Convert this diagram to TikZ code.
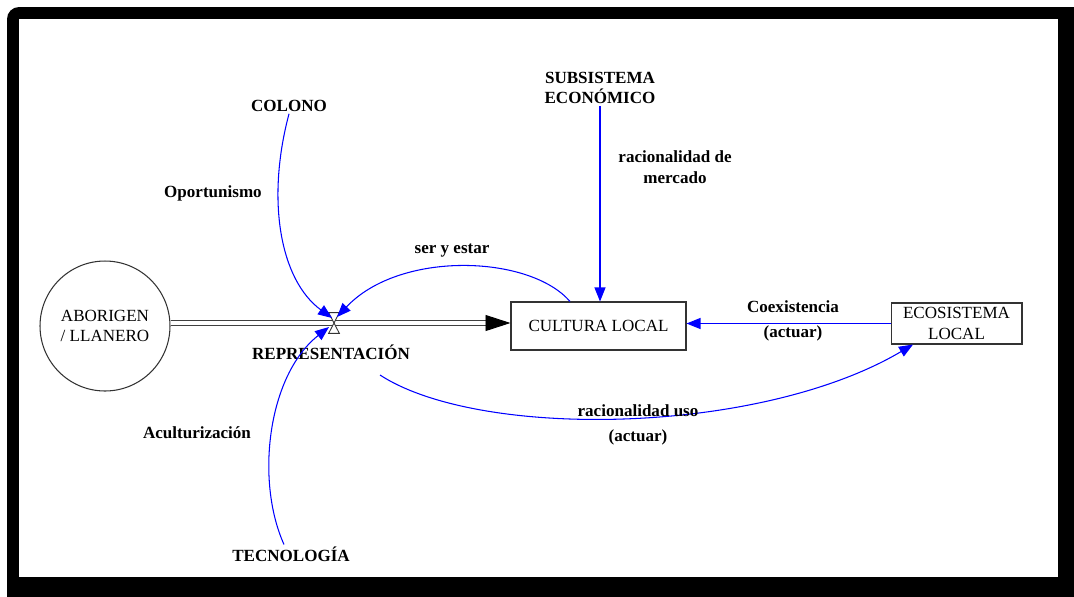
\documentclass[tikz,border=0pt]{standalone}
\usepackage{fontspec}
\setmainfont{Liberation Serif}
\usetikzlibrary{arrows.meta,calc,positioning}
\tikzset{
  var/.style={font=\fontsize{9.7}{11.8}\selectfont\bfseries, align=center, inner sep=1pt},
  stockbox/.style={draw=black!80, line width=0.6pt, align=center, inner sep=0pt},
  link/.style={blue, line width=0.6pt, -{Triangle[length=0.28cm,width=0.22cm]}},
  pipe/.style={draw=black!75, line width=0.55pt, double=white, double distance=0.07cm,
    -{Triangle[length=0.5cm,width=0.32cm,color=black,fill=black]}}
}

\begin{document}
\begin{tikzpicture}[x=0.02cm, y=-0.02cm, font=\fontsize{9.7}{11.8}\selectfont]
  \useasboundingbox (0,0) rectangle (1074,596);
  % frame
  \fill[rounded corners=0.24cm] (7,7) rectangle (1100,620);
  \fill[white] (19,19) rectangle (1058,577);

  \node[circle, draw=black!80, line width=0.6pt, minimum size=2.6cm, align=center, inner sep=0pt]
    (abor) at (105,326) {ABORIGEN\\/ LLANERO};
  \node[stockbox, minimum width=3.5cm, minimum height=0.96cm] (cult) at (598.5,326) {CULTURA LOCAL};
  \node[stockbox, minimum width=2.62cm, minimum height=0.82cm] (eco) at (956.5,323.5) {ECOSISTEMA\\LOCAL};
  \node[var] (sub) at (600,88) {SUBSISTEMA\\ECONÓMICO};
  \node[var] (colono) at (289,106) {COLONO};
  \node[var] (tec) at (291,554) {TECNOLOGÍA};
  \node[minimum width=0.2cm, minimum height=0.4cm, inner sep=0pt] (valve) at (334,323) {};
  \node[var] (rep) at (331,352) {REPRESENTACIÓN};

  % flow
  \draw[pipe] (valve -| abor.east) -- (valve -| cult.west);
  \draw[black!80, fill=white, line width=0.5pt] (valve.north west) -- (valve.north east)
    -- (valve.south west) -- (valve.south east) -- cycle;

  % links
  \draw[link] (colono.south) .. controls (266,200) and (280,280) .. ([shift={(-2,-5)}]valve.center);
  \draw[link] ([xshift=-0.57cm]cult.north) .. controls (530,255) and (400,250) .. ([shift={(3,-6)}]valve.center);
  \draw[link] ([xshift=-0.14cm]tec.north) .. controls (255,480) and (268,375) .. ([shift={(-5,4)}]valve.center);
  \draw[link] (sub.south) -- (sub.south |- cult.north);
  \draw[link] (eco.west) -- (eco.west -| cult.east);
  \coordinate (usefrom) at (380,375);
  \draw[link] (usefrom) .. controls (480,440) and (760,435) .. ([xshift=-0.87cm]eco.south);

  % link labels
  \node[var] (oport) at (213,193) {Oportunismo};
  \node[var] (ser) at (452,251) {ser y estar};
  \node[var] (merc) at (675,167) {racionalidad de\\mercado};
  \node[var] (coex) at (793,321) {Coexistencia\\[2pt](actuar)};
  \node[var] (uso) at (638,425) {racionalidad uso\\[2pt](actuar)};
  \node[var] (acul) at (197,433) {Aculturización};
\end{tikzpicture}
\end{document}
